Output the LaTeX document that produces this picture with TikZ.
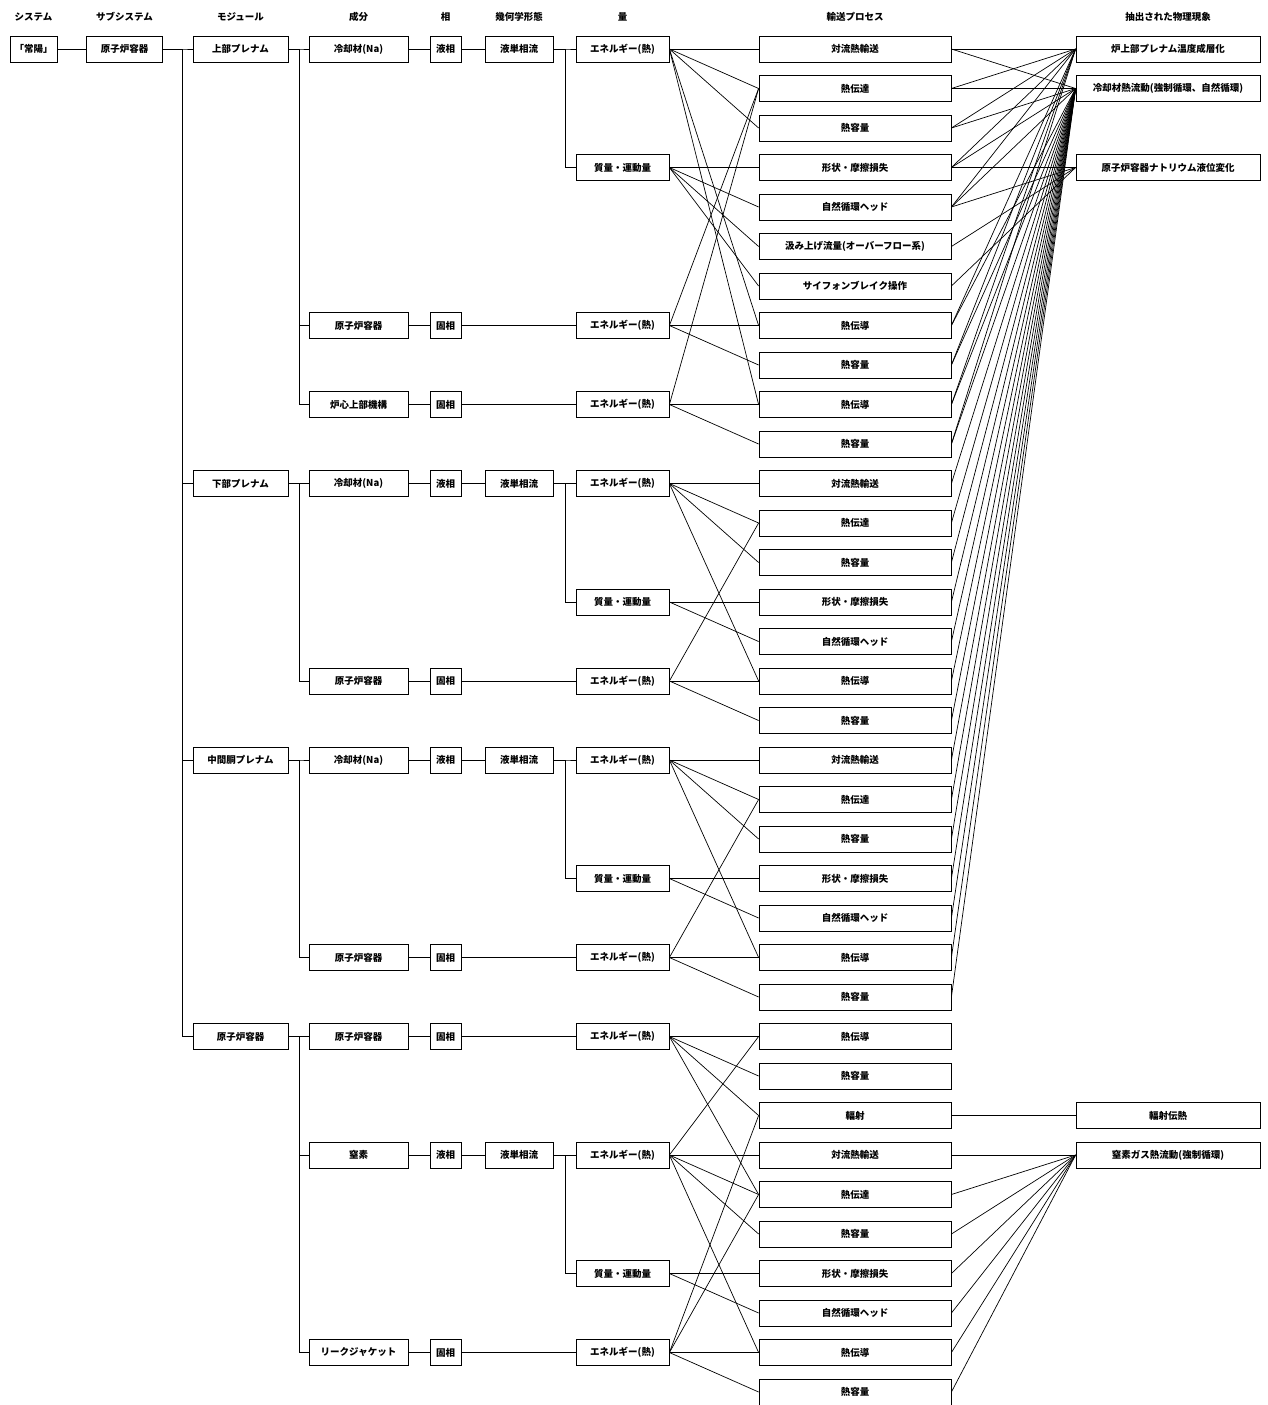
\documentclass[tikz,border=0pt]{standalone}
\usepackage{fontspec}
\setmainfont{Noto Sans CJK JP}
\begin{document}
\begin{tikzpicture}[x=1pt,y=-1pt,
  bx/.style={draw=black, line width=0.8pt, minimum height=26pt, inner sep=0pt,
    font=\bfseries\fontsize{9.5}{11}\selectfont, align=center},
  hd/.style={font=\bfseries\fontsize{9.5}{11}\selectfont, inner sep=0pt},
  ln/.style={line width=0.7pt, black},
]
\useasboundingbox (0,0) rectangle (1267,1405);

% headers
\foreach \n/\x/\t in {h0/33.5/システム, h1/124.5/サブシステム, h2/240.5/モジュール, h3/358.5/成分,
  h4/445.5/相, h5/519/幾何学形態, h6/622.5/量, h7/855/輸送プロセス, h8/1168/抽出された物理現象}
  \node[hd] (\n) at (\x,17) {\t};

% system / subsystem
\node[bx, minimum width=47pt] (sys) at (33.5,49) {「常陽」};
\node[bx, minimum width=76pt] (sub) at (124.5,49) {原子炉容器};

% modules
\foreach \r/\t in {0/上部プレナム, 11/下部プレナム, 18/中間胴プレナム, 25/原子炉容器}
  \node[bx, minimum width=95pt] (m\r) at (240.5,{49+39.5*\r}) {\t};

% components
\foreach \r/\t in {0/冷却材(Na), 7/原子炉容器, 9/炉心上部機構, 11/冷却材(Na), 16/原子炉容器,
  18/冷却材(Na), 23/原子炉容器, 25/原子炉容器, 28/窒素, 33/リークジャケット}
  \node[bx, minimum width=99pt] (c\r) at (358.5,{49+39.5*\r}) {\t};

% phases
\foreach \r/\t in {0/液相, 7/固相, 9/固相, 11/液相, 16/固相, 18/液相, 23/固相, 25/固相, 28/液相, 33/固相}
  \node[bx, minimum width=31pt] (ph\r) at (445.5,{49+39.5*\r}) {\t};

% geometry
\foreach \r in {0,11,18,28}
  \node[bx, minimum width=68pt] (g\r) at (519,{49+39.5*\r}) {液単相流};

% quantities
\foreach \r in {0,7,9,11,16,18,23,25,28,33}
  \node[bx, minimum width=93pt] (q\r) at (622.5,{49+39.5*\r}) {エネルギー(熱)};
\foreach \r in {3,14,21,31}
  \node[bx, minimum width=93pt] (q\r) at (622.5,{49+39.5*\r}) {質量・運動量};

% transport processes
\foreach \r/\t in {0/対流熱輸送, 1/熱伝達, 2/熱容量, 3/形状・摩擦損失, 4/自然循環ヘッド,
  5/汲み上げ流量(オーバーフロー系), 6/サイフォンブレイク操作, 7/熱伝導, 8/熱容量, 9/熱伝導, 10/熱容量,
  11/対流熱輸送, 12/熱伝達, 13/熱容量, 14/形状・摩擦損失, 15/自然循環ヘッド, 16/熱伝導, 17/熱容量,
  18/対流熱輸送, 19/熱伝達, 20/熱容量, 21/形状・摩擦損失, 22/自然循環ヘッド, 23/熱伝導, 24/熱容量,
  25/熱伝導, 26/熱容量, 27/輻射, 28/対流熱輸送, 29/熱伝達, 30/熱容量, 31/形状・摩擦損失,
  32/自然循環ヘッド, 33/熱伝導, 34/熱容量}
  \node[bx, minimum width=192pt] (t\r) at (855,{49+39.5*\r}) {\t};

% phenomena
\foreach \r/\t in {0/炉上部プレナム温度成層化, 1/冷却材熱流動(強制循環、自然循環),
  3/原子炉容器ナトリウム液位変化, 27/輻射伝熱, 28/窒素ガス熱流動(強制循環)}
  \node[bx, minimum width=184pt] (p\r) at (1168,{49+39.5*\r}) {\t};

% tree connectors
\draw[ln] (sys.east) -- (sub.west);
\foreach \r in {0,11,18,25}
  \draw[ln] (sub.east) -- ++(19.5,0) |- (m\r.west);
\foreach \m/\c in {0/0, 0/7, 0/9, 11/11, 11/16, 18/18, 18/23, 25/25, 25/28, 25/33}
  \draw[ln] (m\m.east) -- ++(10.5,0) |- (c\c.west);
\foreach \r in {0,7,9,11,16,18,23,25,28,33}
  \draw[ln] (c\r.east) -- (ph\r.west);
\foreach \r in {0,11,18,28}
  \draw[ln] (ph\r.east) -- (g\r.west);
\foreach \r in {7,9,16,23,25,33}
  \draw[ln] (ph\r.east) -- (q\r.west);
\foreach \g/\q in {0/0, 0/3, 11/11, 11/14, 18/18, 18/21, 28/28, 28/31}
  \draw[ln] (g\g.east) -- ++(12,0) |- (q\q.west);

% quantity -> transport
\foreach \q/\t in {0/0, 0/1, 0/2, 0/7, 0/9, 3/3, 3/4, 3/5, 3/6, 7/1, 7/7, 7/8, 9/1, 9/9, 9/10,
  11/11, 11/12, 11/13, 11/16, 14/14, 14/15, 16/12, 16/16, 16/17,
  18/18, 18/19, 18/20, 18/23, 21/21, 21/22, 23/19, 23/23, 23/24,
  25/25, 25/26, 25/27, 25/29, 28/25, 28/28, 28/29, 28/30, 28/33, 31/31, 31/32,
  33/27, 33/29, 33/33, 33/34}
  \draw[ln] (q\q.east) -- (t\t.west);

% transport -> phenomena
\foreach \t/\p in {0/0, 0/1, 1/0, 1/1, 2/0, 2/1, 3/0, 3/1, 3/3, 4/0, 4/1, 4/3, 5/3, 6/3,
  7/0, 7/1, 8/0, 8/1, 9/0, 9/1, 10/0, 10/1,
  11/1, 12/1, 13/1, 14/1, 15/1, 16/1, 17/1, 18/1, 19/1, 20/1, 21/1, 22/1, 23/1, 24/1,
  27/27, 28/28, 29/28, 30/28, 31/28, 32/28, 33/28, 34/28}
  \draw[ln] (t\t.east) -- (p\p.west);
\end{tikzpicture}
\end{document}
